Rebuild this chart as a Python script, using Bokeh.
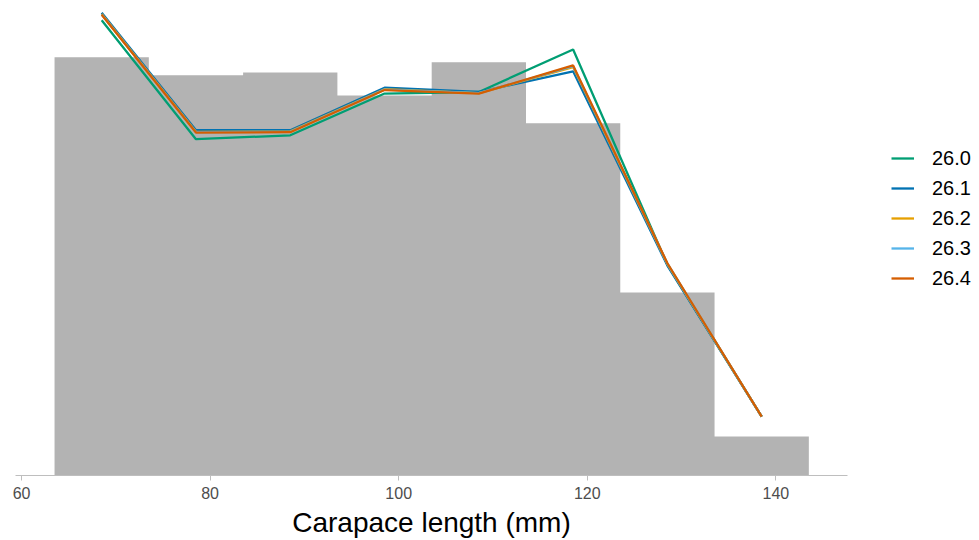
from bokeh.plotting import figure
from bokeh.models import Legend, LegendItem, Range1d, FixedTicker
from bokeh.embed import file_html
from bokeh.resources import INLINE

# Histogram bins (carapace length, mm) and counts
bin_left = [63.5, 73.5, 83.5, 93.5, 103.5, 113.5, 123.5, 133.5]
bin_right = [73.5, 83.5, 93.5, 103.5, 113.5, 123.5, 133.5, 143.5]
counts = [107.2, 102.6, 103.3, 97.4, 105.9, 90.3, 46.9, 10.0]

# Predicted counts at bin mids for each temperature
mids = [68.5, 78.5, 88.5, 98.5, 108.5, 118.5, 128.5, 138.5]
pred_260 = [116.7, 86.2, 87.2, 97.9, 98.3, 109.2, 54.0, 15.1]
pred_261 = [118.6, 88.5, 88.5, 99.4, 98.3, 103.6, 53.8, 15.1]
pred_262 = [118.3, 88.1, 88.2, 99.0, 98.0, 104.7, 54.2, 15.1]
pred_263 = [118.2, 88.0, 88.1, 98.9, 98.0, 104.9, 54.3, 15.1]
pred_264 = [118.1, 87.9, 88.0, 98.8, 97.9, 105.1, 54.4, 15.1]

series_labels = ["26.0", "26.1", "26.2", "26.3", "26.4"]
series_values = [pred_260, pred_261, pred_262, pred_263, pred_264]
series_colors = ["#009E73", "#0072B2", "#E69F00", "#56B4E9", "#D55E00"]

x_ticks = [60, 80, 100, 120, 140]

FONT = "Liberation Sans"

p = figure(frame_width=832, frame_height=467, output_backend="svg",
           toolbar_location=None, x_range=Range1d(59.36, 147.6),
           y_range=Range1d(0, 119.7), min_border_left=15, min_border_top=8,
           min_border_right=0, min_border_bottom=0)

# histogram as one stepped area (no seams between bins)
step_x = bin_left + [bin_right[-1]]
step_y = counts + [counts[-1]]
p.varea_step(x=step_x, y1=[0] * len(step_x), y2=step_y, step_mode="after",
             fill_color="#B3B3B3")

items = []
for lab, vals, col in zip(series_labels, series_values, series_colors):
    r = p.line(mids, vals, line_color=col, line_width=2.3)
    items.append(LegendItem(label=lab, renderers=[r]))

p.yaxis.visible = False
p.grid.visible = False
p.outline_line_color = None
p.background_fill_color = "white"
p.border_fill_color = "white"

xa = p.xaxis[0]
xa.ticker = FixedTicker(ticks=x_ticks)
xa.axis_line_color = "#BEBEBE"
xa.major_tick_line_color = "#BEBEBE"
xa.major_tick_out = 5
xa.major_tick_in = 0
xa.minor_tick_line_color = None
xa.major_label_text_font = FONT
xa.major_label_text_font_size = "16px"
xa.major_label_text_color = "#4D4D4D"
xa.major_label_standoff = 6
xa.axis_label = "Carapace length (mm)"
xa.axis_label_text_font = FONT
xa.axis_label_text_font_size = "28px"
xa.axis_label_text_font_style = "normal"
xa.axis_label_text_color = "black"
xa.axis_label_standoff = 5

legend = Legend(items=items, location=(44, 182))
legend.border_line_color = None
legend.background_fill_alpha = 0
legend.padding = 0
legend.margin = 0
legend.spacing = 0
legend.glyph_width = 23
legend.glyph_height = 30
legend.label_height = 30
legend.label_standoff = 18
legend.label_text_font = FONT
legend.label_text_font_size = "20px"
legend.label_text_color = "black"
p.add_layout(legend, "right")
p.min_border_right = 124

open("out.html", "w").write(file_html(p, INLINE))
